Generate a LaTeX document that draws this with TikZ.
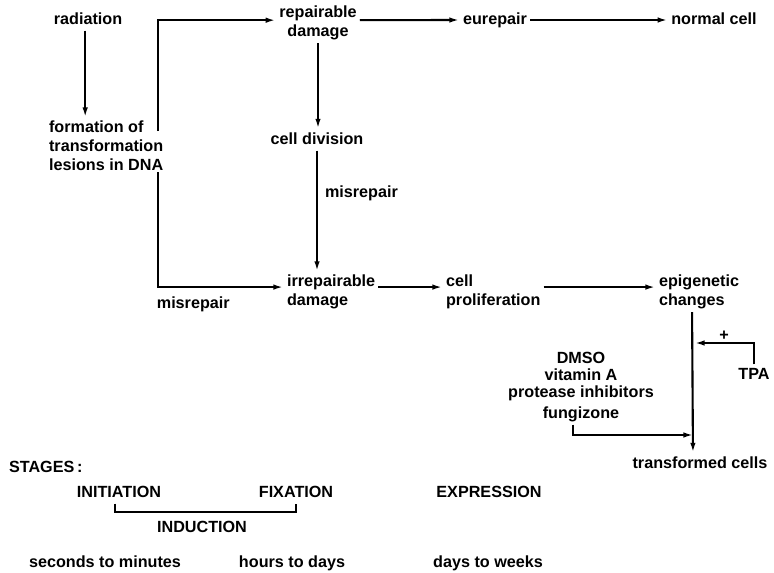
\documentclass[tikz,border=0pt]{standalone}
\usepackage{fontspec}
\setmainfont{Liberation Sans}
\usetikzlibrary{positioning, arrows.meta, calc}

\begin{document}
\begin{tikzpicture}[
    x=0.025cm, y=-0.025cm,
    every node/.style={font=\fontsize{11.5}{13.5}\selectfont\bfseries, inner sep=2pt},
    word/.style={text height=8.4pt, text depth=2.4pt},
    leftbox/.style={align=left, anchor=west},
    midbox/.style={align=center},
    flow/.style={->, line width=1.5pt},
    bar/.style={line width=1.5pt},
    >={Latex[length=7.5pt, width=3.8pt]},
  ]
  \useasboundingbox (0,0) rectangle (774,572);

  % upper branch
  \node[word] (rad) at (88,20) {radiation};
  \node[leftbox] (form) at (46,146) {formation of\\transformation\\lesions in DNA};
  \node[midbox] (rep) at (318,23) {repairable\\damage};
  \node[word] (eu) at (495,20) {eurepair};
  \node[word] (norm) at (714,20) {normal cell};
  \node[word] (div) at (317,140) {cell division};

  % lower branch
  \node[leftbox] (irr) at (284,292) {irrepairable\\damage};
  \node[leftbox] (prol) at (443,292) {cell\\proliferation};
  \node[leftbox] (epi) at (656,292) {epigenetic\\changes};
  \node[word] (trans) at (700,464) {transformed cells};
  \node[word] (tpa) at (754,375) {TPA};
  \node[midbox] (inh) at (581,387) {DMSO\\[-1.5pt]vitamin A\\[-1.5pt]protease inhibitors\\[1pt]fungizone};

  \coordinate (upper) at (158,131);
  \coordinate (lower) at (158,172);
  \coordinate (tpahit) at (694,343);
  \coordinate (inhhit) at (694,435);

  \draw[flow] ([xshift=-2pt]rad.south) -- ([xshift=-2pt]rad.south |- form.north);
  \draw[flow] (upper) |- ([yshift=2pt]rep.west);
  \draw[flow] ([yshift=2pt]rep.east) -- (eu.west);
  \draw[flow] (eu) -- (norm);
  \draw[flow] (rep.south) -- (rep.south |- div.north);
  \draw[flow] (div.south) -- node[word, right=3pt, pos=0.35] {misrepair} (div.south |- irr.north);
  \draw[flow] (lower) |- node[word, below=4pt, pos=0.64] {misrepair} ([yshift=3.5pt]irr.west);
  \draw[flow] ([yshift=3.5pt]irr.east) -- ([yshift=3.5pt]prol.west);
  \draw[flow] ([yshift=3.5pt]prol.east) -- ([yshift=3.5pt]epi.west);
  \draw[flow] ([xshift=-5pt]epi.south) -- ([xshift=-5pt]trans.north);
  \draw[flow] (tpa.north) |- node[above, inner sep=1pt, pos=0.75] {+} (tpahit);
  \draw[flow] ([xshift=-0.2cm]inh.south) |- (inhhit);

  % stages
  \node[word, anchor=west] (stg) at (6,468) {STAGES\,:};
  \node[word] (ini) at (119,493) {INITIATION};
  \node[word] (fix) at (296,493) {FIXATION};
  \node[word] (expr) at (489,493) {EXPRESSION};
  \node[word] (ind) at (202,528) {INDUCTION};
  \node[word] (t1) at (105,563) {seconds to minutes};
  \node[word] (t2) at (292,563) {hours to days};
  \node[word] (t3) at (488,563) {days to weeks};
  \draw[bar] ([xshift=-3pt]ini.south) -- ++(0,8) -| (fix.south);
\end{tikzpicture}
\end{document}
